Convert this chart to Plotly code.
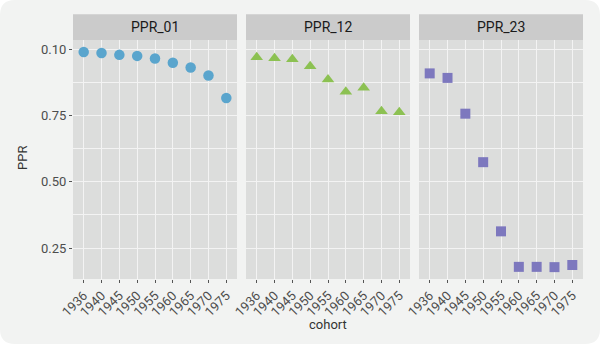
import plotly.graph_objects as go

# Data
cohorts = ["1936", "1940", "1945", "1950", "1955", "1960", "1965", "1970", "1975"]
ppr_01 = [0.990, 0.986, 0.979, 0.975, 0.965, 0.949, 0.931, 0.901, 0.816]
ppr_12 = [0.970, 0.966, 0.962, 0.936, 0.886, 0.840, 0.855, 0.766, 0.762]
ppr_23 = [0.909, 0.892, 0.757, 0.574, 0.313, 0.179, 0.179, 0.178, 0.186]
panel_titles = ["PPR_01", "PPR_12", "PPR_23"]
y_tickvals = [1.0, 0.75, 0.5, 0.25]
y_ticktext = ["0.10", "0.75", "0.50", "0.25"]

W, H = 600, 344
L, R, T, B = 73, 17, 40, 65
PW, PH = W - L - R, H - T - B

def px_x(p):
    return (p - L) / PW

def px_y(p):
    return (H - B - p) / PH

domains = [(px_x(73), px_x(237)), (px_x(246), px_x(410)), (px_x(419), px_x(583))]

series = [
    (ppr_01, "circle", "#5aa5cd", 10.5),
    (ppr_12, "triangle-up", "#8cc152", 11),
    (ppr_23, "square", "#7d78be", 10),
]

BG = "#f2f3f2"
PANEL = "#dcdddc"
STRIP = "#cbcbcb"
GRID = "#f3f3f3"
TICKCOL = "#4d4d4d"
FONT = "Roboto, Liberation Sans, sans-serif"

fig = go.Figure()

for i, (vals, sym, col, size) in enumerate(series):
    fig.add_trace(go.Scatter(
        x=cohorts, y=vals, mode="markers",
        xaxis="x" if i == 0 else f"x{i+1}",
        yaxis="y" if i == 0 else f"y{i+1}",
        marker=dict(symbol=sym, color=col, size=size, line=dict(width=0)),
        showlegend=False, hoverinfo="x+y",
    ))

# Rounded background card behind everything
r = 15
x0, x1 = px_x(0), px_x(W)
y0, y1 = px_y(H), px_y(0)
rx, ry = r / PW, r / PH
card = (
    f"M{x0+rx},{y1} L{x1-rx},{y1} Q{x1},{y1} {x1},{y1-ry} "
    f"L{x1},{y0+ry} Q{x1},{y0} {x1-rx},{y0} "
    f"L{x0+rx},{y0} Q{x0},{y0} {x0},{y0+ry} "
    f"L{x0},{y1-ry} Q{x0},{y1} {x0+rx},{y1} Z"
)
shapes = [dict(type="path", path=card, xref="paper", yref="paper",
               fillcolor=BG, line=dict(width=0), layer="below")]

annotations = []
strip_top = px_y(14.3)
for i, (d0, d1) in enumerate(domains):
    # panel background
    shapes.append(dict(type="rect", xref="paper", yref="paper",
                       x0=d0, x1=d1, y0=0, y1=1,
                       fillcolor=PANEL, line=dict(width=0), layer="below"))
    # facet strip
    shapes.append(dict(type="rect", xref="paper", yref="paper",
                       x0=d0, x1=d1, y0=1, y1=strip_top,
                       fillcolor=STRIP, line=dict(width=0), layer="below"))
    annotations.append(dict(text=panel_titles[i], xref="paper", yref="paper",
                            x=(d0 + d1) / 2, y=(1 + strip_top) / 2,
                            showarrow=False, xanchor="center", yanchor="middle",
                            font=dict(family=FONT, size=14, color="#1a1a1a")))

# Axis titles
annotations.append(dict(text="PPR", xref="paper", yref="paper",
                        x=px_x(22), y=px_y(158), textangle=-90,
                        showarrow=False, xanchor="center", yanchor="middle",
                        font=dict(family=FONT, size=13, color="#333333")))
annotations.append(dict(text="cohort", xref="paper", yref="paper",
                        x=(domains[1][0] + domains[1][1]) / 2, y=px_y(324),
                        showarrow=False, xanchor="center", yanchor="middle",
                        font=dict(family=FONT, size=13, color="#333333")))

layout = dict(
    width=W, height=H,
    margin=dict(l=L, r=R, t=T, b=B),
    paper_bgcolor="white",
    plot_bgcolor="rgba(0,0,0,0)",
    shapes=shapes, annotations=annotations,
    font=dict(family=FONT),
)

for i, (d0, d1) in enumerate(domains):
    sx = "" if i == 0 else str(i + 1)
    layout[f"xaxis{sx}"] = dict(
        domain=[d0, d1], type="category", range=[-0.6, 8.6],
        anchor=f"y{sx}", showgrid=True, gridcolor=GRID, gridwidth=1.1,
        zeroline=False, showline=False,
        ticks="outside", ticklen=3, tickwidth=1, tickcolor="#555555",
        tickangle=-45, tickfont=dict(family=FONT, size=13, color=TICKCOL),
        fixedrange=True,
    )
    layout[f"yaxis{sx}"] = dict(
        domain=[0, 1], range=[0.1332, 1.035],
        anchor=f"x{sx}", matches=None if i == 0 else "y",
        tickvals=y_tickvals, ticktext=y_ticktext,
        showticklabels=(i == 0),
        ticks="outside" if i == 0 else "", ticklen=3, tickwidth=1, tickcolor="#555555",
        tickfont=dict(family=FONT, size=13, color=TICKCOL),
        showgrid=True, gridcolor=GRID, gridwidth=1.1,
        minor=dict(tick0=0.125, dtick=0.25, showgrid=True,
                   gridcolor=GRID, gridwidth=0.5, ticks=""),
        zeroline=False, showline=False, fixedrange=True,
    )

fig.update_layout(**layout)
fig.write_html("out.html")
